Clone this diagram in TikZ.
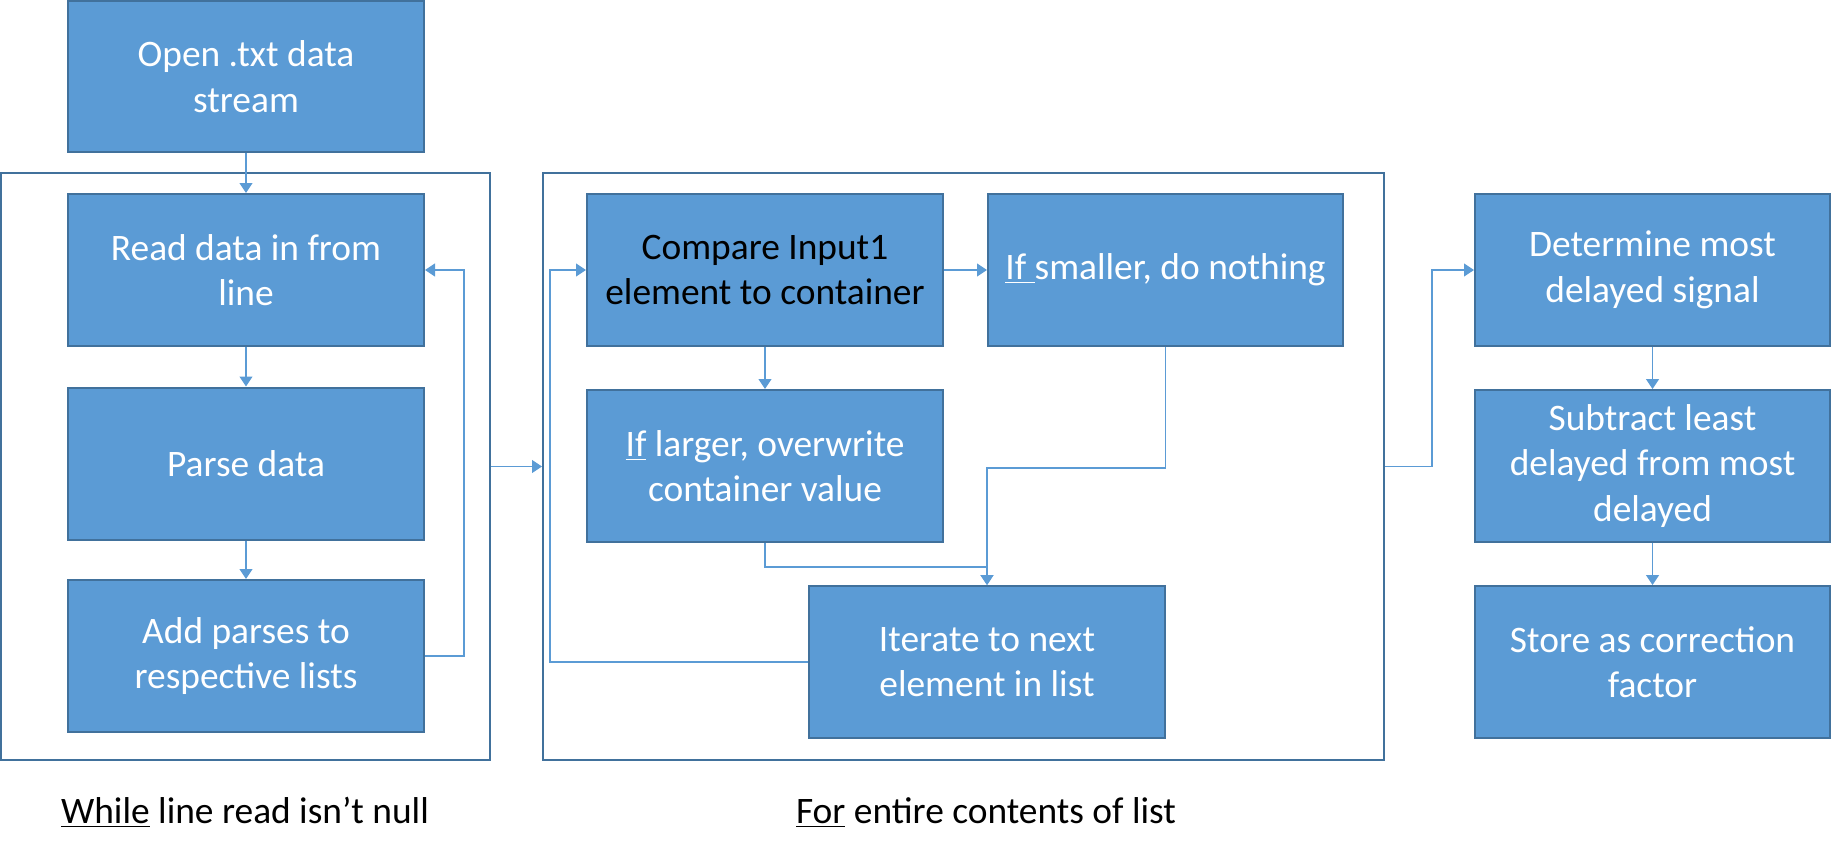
\documentclass[tikz,border=0pt]{standalone}
\usepackage{fontspec}
\setmainfont{Carlito}
\usetikzlibrary{arrows.meta}
\definecolor{boxfill}{HTML}{5B9BD5}
\definecolor{boxline}{HTML}{41719C}
\definecolor{connc}{HTML}{5B9BD5}
\tikzset{
  stepbox/.style={draw=boxline, line width=1pt, fill=boxfill, text=white,
    minimum width=178pt, minimum height=76pt, inner sep=0pt, align=center,
    font=\fontsize{18.7}{22.7}\selectfont},
  framebox/.style={draw=boxline, line width=1pt, inner sep=0pt},
  conn/.style={draw=connc, line width=0.6pt, -{Triangle[length=5pt,width=6.5pt]}},
  caption/.style={anchor=base, inner sep=0pt, text=black,
    font=\fontsize{18.7}{22.7}\selectfont}
}
\begin{document}
\begin{tikzpicture}[x=0.5pt,y=-0.5pt]
\useasboundingbox (0,0) rectangle (1831,856);
% frames
\node[framebox, minimum width=244.5pt, minimum height=293.5pt] (frameA) at (245.5,466.5) {};
\node[framebox, minimum width=420.5pt, minimum height=293.5pt] (frameB) at (963.5,466.5) {};
% left column
\node[stepbox, minimum height=75.5pt] (open) at (246,76.5) {Open .txt data\\stream};
\node[stepbox] (read) at (246,270) {Read data in from\\line};
\node[stepbox] (parse) at (246,463.5) {Parse data};
\node[stepbox] (add) at (246,656) {Add parses to\\respective lists};
% middle
\node[stepbox, text=black] (compare) at (765,270) {Compare Input1\\element to container};
\node[stepbox, minimum width=177.5pt] (smaller) at (1165.5,270) {\underline{If }smaller, do nothing};
\node[stepbox] (larger) at (765,466) {\underline{If} larger, overwrite\\container value};
\node[stepbox] (iterate) at (987,662) {Iterate to next\\element in list};
% right column
\node[stepbox, minimum width=177.5pt] (determine) at (1652.5,270) {Determine most\\delayed signal};
\node[stepbox, minimum width=177.5pt] (subtract) at (1652.5,466) {Subtract least\\delayed from most\\delayed};
\node[stepbox, minimum width=177.5pt] (store) at (1652.5,662) {Store as correction\\factor};
% captions
\node[caption] (capA) at (245,823) {\underline{While} line read isn’t null};
\node[caption] (capB) at (986,823) {\underline{For} entire contents of list};
% connectors
\draw[conn] (open) -- (read);
\draw[conn] (read) -- (parse);
\draw[conn] (parse) -- (add);
\draw[conn] (add.east) -- ++(39,0) |- (read.east);
\draw[conn] (frameA) -- (frameB);
\draw[conn] (compare) -- (smaller);
\draw[conn] (compare) -- (larger);
\draw[conn] (iterate.west) -- ++(-258,0) |- (compare.west);
\draw[conn] (larger.south) -- ++(0,24) -| (iterate.north);
\draw[conn] (smaller.south) -- ++(0,121) -| (iterate.north);
\draw[conn] (frameB.east) -- ++(47,0) |- (determine.west);
\draw[conn] (determine) -- (subtract);
\draw[conn] (subtract) -- (store);
\end{tikzpicture}
\end{document}
